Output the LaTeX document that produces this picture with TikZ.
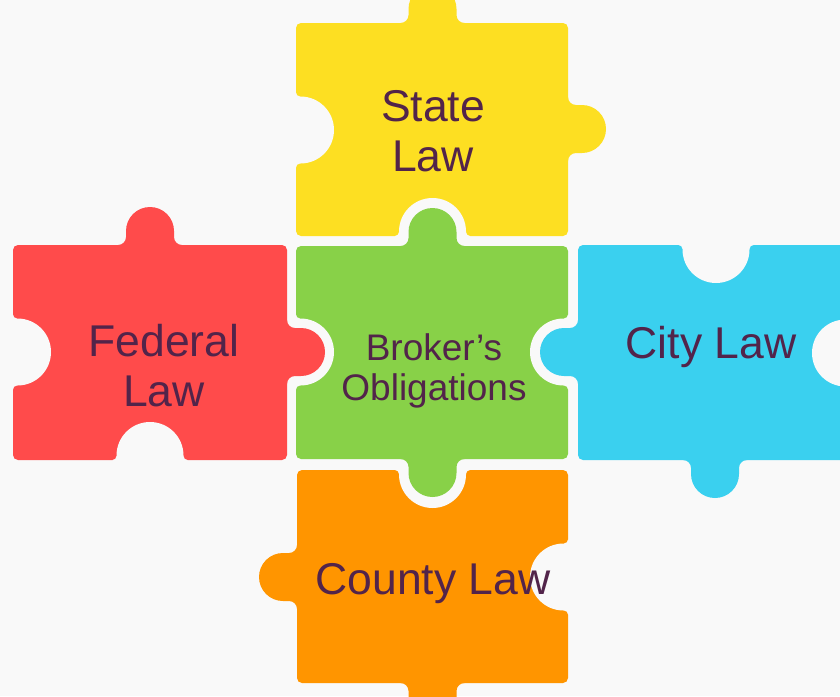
\documentclass[tikz,border=0pt]{standalone}
\usepackage{fontspec}
\setmainfont{Liberation Sans}

\definecolor{bgc}{RGB}{249,249,249}
\definecolor{pyellow}{RGB}{253,223,34}
\definecolor{pred}{RGB}{255,75,75}
\definecolor{pgreen}{RGB}{136,209,72}
\definecolor{pblue}{RGB}{58,208,239}
\definecolor{porange}{RGB}{255,149,0}
\definecolor{txt}{RGB}{82,36,74}

% knob sticking out of an edge: centre of its base at (#1,-#2), turned by #3
\newcommand\knob[4]{%
  \fill[#4,shift={(#1,-#2)},rotate=#3]
    (-32,-1) -- (-32,0) arc[start angle=-90,end angle=0,radius=8]
    -- (-24,14) arc[start angle=180,end angle=0,radius=24]
    -- (24,8) arc[start angle=180,end angle=270,radius=8]
    -- (32,-1) -- cycle;}
% notch cut into an edge: centre of its mouth at (#1,-#2), turned by #3
\newcommand\notch[3]{%
  \fill[bgc,shift={(#1,-#2)},rotate=#3]
    (-37.5,-1) -- (-37.5,0) arc[start angle=-90,end angle=0,radius=4]
    -- (-33.5,4.5) arc[start angle=180,end angle=0,radius=33.5]
    -- (33.5,4) arc[start angle=180,end angle=270,radius=4]
    -- (37.5,-1) -- cycle;}

\tikzset{
  body/.style={rounded corners=5pt},
  biglabel/.style={text=txt,align=center,inner sep=0pt,
    font=\fontsize{44.5}{50}\selectfont},
  smalllabel/.style={text=txt,align=center,inner sep=0pt,
    font=\fontsize{37}{40}\selectfont}
}

\begin{document}
\begin{tikzpicture}[x=1pt,y=1pt]
\fill[bgc] (0,0) rectangle (840,-696);
\useasboundingbox (0,0) rectangle (840,-696);
\clip (0,0) rectangle (840,-696);

% State Law (top)
\fill[pyellow,body] (296,-23) rectangle (568,-236);
\knob{432.5}{23}{0}{pyellow}
\knob{568}{129}{-90}{pyellow}
\notch{296}{130}{-90}
\notch{432.5}{236}{0}

% County Law (bottom)
\fill[porange,body] (297,-470) rectangle (568,-683);
\knob{297}{577}{90}{porange}
\knob{432.5}{683}{180}{porange}
\notch{432.5}{470}{180}
\notch{568}{577}{90}

% Broker's Obligations (centre)
\fill[pgreen,body] (296,-246) rectangle (568,-459);
\knob{432.5}{246}{0}{pgreen}
\knob{432.5}{459}{180}{pgreen}
\notch{296}{352}{-90}
\notch{568}{352}{90}

% Federal Law (left)
\fill[pred,body] (13,-245) rectangle (287,-460);
\knob{150}{245}{0}{pred}
\knob{287}{352}{-90}{pred}
\notch{13}{352}{-90}
\notch{150}{460}{0}

% City Law (right)
\fill[pblue,body] (578,-245) rectangle (850,-460);
\knob{578}{352}{90}{pblue}
\knob{715}{460}{180}{pblue}
\notch{716}{245}{180}
\notch{850}{353}{90}

% labels
\node[biglabel] (state) at (433,-131.5) {State\\Law};
\node[biglabel] (federal) at (164,-365.5) {Federal\\Law};
\node[smalllabel] (broker) at (434,-370.5) {Broker’s\\Obligations};
\node[biglabel,anchor=base] (city) at (711,-358) {City Law};
\node[biglabel,anchor=base] (county) at (433,-594) {County Law};
\end{tikzpicture}
\end{document}
